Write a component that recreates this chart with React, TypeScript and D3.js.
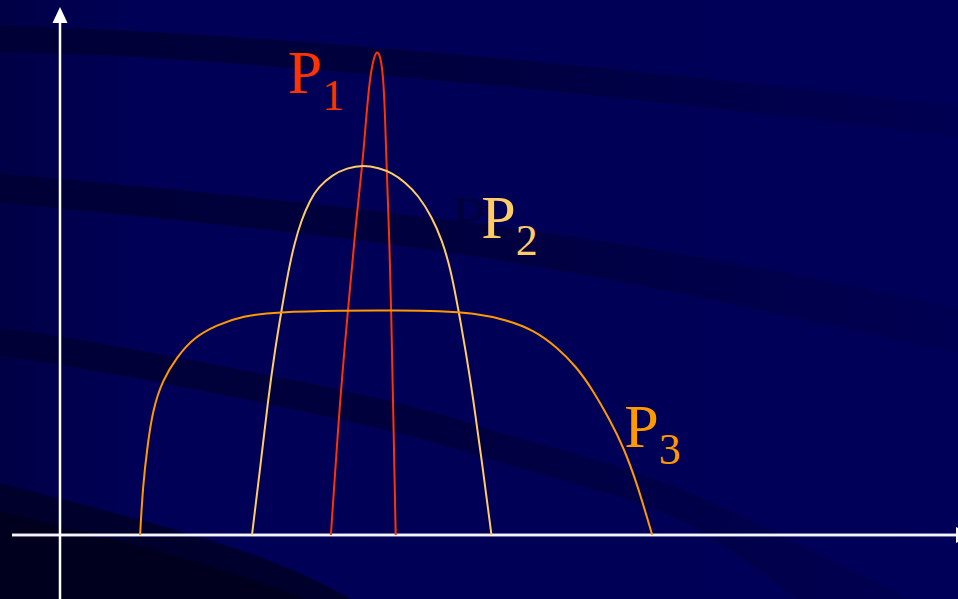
import React from "react";
import * as d3 from "d3";

// Curve samples: x in abstract units (0–100), y as relative height (0–100)
const p1X = [30.1, 31.1, 32.0, 32.9, 33.6, 34.0, 34.4, 34.8, 35.2, 35.6, 35.9, 36.1, 36.3, 36.6, 36.8, 37.0, 37.3];
const p1Y = [0, 27, 45, 63, 74, 83, 91, 95, 97, 95.8, 92, 85, 73, 59, 45, 27, 0];

const p2X = [21.33, 22.22, 23.11, 23.89, 24.56, 25.39, 26.06, 26.83, 27.78, 28.72, 30.22, 31.89, 33.67, 35.44, 36.89, 38.33, 39.78, 41.33, 42.44, 43.44, 44.33, 45.06, 45.94, 47.0, 47.94];
const p2Y = [0, 13, 27, 37, 44.4, 53, 58.4, 63, 67, 69.6, 72, 73.4, 74, 73.4, 72.4, 70.6, 68, 63.6, 59, 53, 44.4, 37, 27, 13, 0];

const p3X = [8.9, 9.2, 9.7, 10.3, 11.4, 13.0, 14.8, 17.4, 20.3, 24.1, 31.1, 37.8, 42.2, 45.9, 49.7, 52.6, 55.2, 57.4, 59.2, 61.1, 62.6, 64.1, 65.8];
const p3Y = [0, 9.6, 17.6, 25, 31, 35.6, 39.4, 42, 43.8, 44.6, 44.9, 44.9, 44.8, 44.4, 43, 41, 37.6, 33.6, 29, 23, 17.6, 10.4, 0];

const seriesNames = ["P", "P", "P"];
const seriesSubs = ["1", "2", "3"];

const W = 958;
const H = 599;

const xScale = d3.scaleLinear().domain([0, 100]).range([60, 960]);
const yScale = d3.scaleLinear().domain([0, 100]).range([535, 35]);

const curveLine = d3
  .line<[number, number]>()
  .x((d) => xScale(d[0]))
  .y((d) => yScale(d[1]))
  .curve(d3.curveBasis);

const zip = (xs: number[], ys: number[]) => xs.map((x, i) => [x, ys[i]] as [number, number]);

// Decorative background bands (pixel-space outlines)
const bandEdge = d3.line<[number, number]>().curve(d3.curveBasis);
const bandPath = (top: [number, number][], bottom: [number, number][]) => {
  const t = bandEdge(top) || "";
  const b = bandEdge([...bottom].reverse()) || "";
  return t + "L" + b.slice(1) + "Z";
};

const bands = [
  bandPath(
    [[-5, 25], [120, 30], [260, 38], [560, 62], [963, 107]],
    [[-5, 52], [120, 55], [260, 65], [560, 90], [963, 137]]
  ),
  bandPath(
    [[-5, 173], [240, 195], [478, 222], [718, 258], [963, 310]],
    [[-5, 202], [240, 226], [478, 254], [718, 300], [963, 354]]
  ),
  bandPath(
    [[-5, 327], [100, 342], [400, 400], [478, 427], [625, 467], [711, 500], [878, 583], [930, 610]],
    [[-5, 355], [100, 370], [400, 430], [478, 457], [638, 500], [711, 533], [811, 610]]
  ),
];

const cornerOuter = bandPath(
  [[-5, 482], [183, 530], [300, 570], [370, 610]],
  [[-5, 610], [-5, 610], [370, 610]]
);
const cornerInner = bandPath(
  [[-5, 510], [200, 560], [335, 610]],
  [[-5, 610], [-5, 610], [335, 610]]
);

const colors = ["#FF3300", "#FFCC66", "#FF9900"];
const series = [zip(p1X, p1Y), zip(p2X, p2Y), zip(p3X, p3Y)];

// Label anchors in data units
const labelAt: [number, number][] = [
  [25.3, 88.4],
  [46.8, 59.4],
  [62.7, 17.6],
];

const serif = "'Liberation Serif', 'Times New Roman', Times, serif";

export default function App() {
  const axisY = yScale(0);
  const axisX = xScale(0);
  return (
    <svg
      width={W}
      height={H}
      viewBox={`0 0 ${W} ${H}`}
      style={{ position: "fixed", left: 0, top: 0, display: "block" }}
    >
      <defs>
        <linearGradient id="edgeShade" x1="0" x2="1" y1="0" y2="0">
          <stop offset="0" stopColor="#000046" />
          <stop offset="0.14" stopColor="#000056" />
          <stop offset="1" stopColor="#000058" />
        </linearGradient>
        <linearGradient id="bandFade" x1="0" x2="1" y1="0" y2="0">
          <stop offset="0" stopColor="#000036" />
          <stop offset="0.45" stopColor="#00003e" />
          <stop offset="1" stopColor="#000052" />
        </linearGradient>
      </defs>
      <rect x={0} y={0} width={W} height={H} fill="url(#edgeShade)" />
      {bands.map((d, i) => (
        <path key={i} d={d} fill="url(#bandFade)" />
      ))}
      <path d={cornerOuter} fill="#00002c" />
      <path d={cornerInner} fill="#00001e" />

      {/* shadow glyph near the second label */}
      <text x={451} y={238} fontFamily={serif} fontSize={62} fill="#00003e">
        P
      </text>

      {/* axes */}
      <line x1={12} y1={axisY} x2={958} y2={axisY} stroke="#d8d8f0" strokeWidth={3} />
      <line x1={12} y1={axisY} x2={958} y2={axisY} stroke="#ffffff" strokeWidth={1.6} />
      <path d={`M${956},${axisY - 8}L${971},${axisY}L${956},${axisY + 8}Z`} fill="#ffffff" />
      <line x1={axisX} y1={H} x2={axisX} y2={20} stroke="#ffffff" strokeWidth={2.5} />
      <path d={`M${axisX},7L${axisX + 7.5},23L${axisX - 7.5},23Z`} fill="#ffffff" />

      {/* curves */}
      {series.map((pts, i) => (
        <path
          key={i}
          d={curveLine(pts) || ""}
          fill="none"
          stroke={colors[i]}
          strokeWidth={2}
          strokeLinejoin="round"
        />
      ))}

      {/* labels */}
      {labelAt.map(([u, v], i) => (
        <text key={i} x={xScale(u)} y={yScale(v)} fontFamily={serif} fontSize={62} fill={colors[i]}>
          {seriesNames[i]}
          <tspan fontSize={44} dy={17}>
            {seriesSubs[i]}
          </tspan>
        </text>
      ))}
    </svg>
  );
}
